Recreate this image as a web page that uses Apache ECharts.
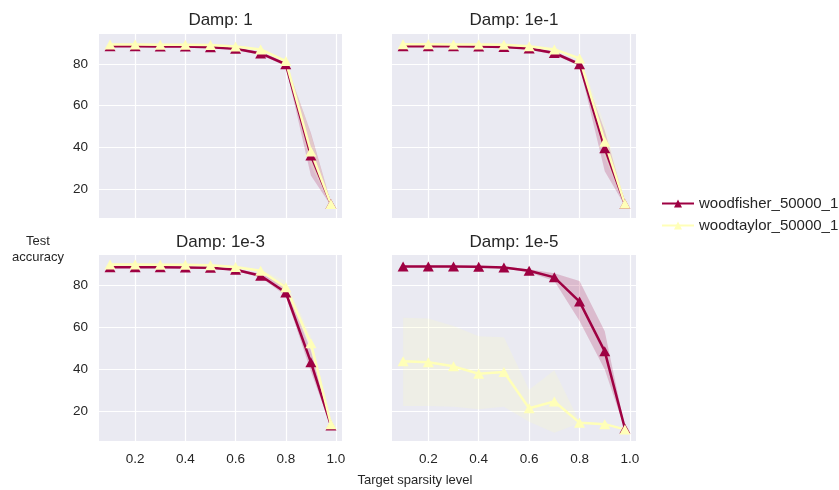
<!DOCTYPE html>
<html>
<head>
<meta charset="utf-8">
<title>Test accuracy vs target sparsity</title>
<script src="https://cdn.jsdelivr.net/npm/echarts@6/dist/echarts.min.js"></script>
<style>
  html, body { margin: 0; padding: 0; background: #ffffff; }
  #chart { width: 839px; height: 490px; }
</style>
</head>
<body>
<div id="chart"></div>
<script>
// Target sparsity levels shared by every panel
const sparsity = [0.1, 0.2, 0.3, 0.4, 0.5, 0.6, 0.7, 0.8, 0.9, 0.98];

const panelTitles = ['Damp: 1', 'Damp: 1e-1', 'Damp: 1e-3', 'Damp: 1e-5'];
const seriesNames = ['woodfisher_50000_1', 'woodtaylor_50000_1'];

// Damp: 1
const fisherDamp1   = [88.4, 88.4, 88.3, 88.3, 88.0, 87.2, 85.0, 79.8, 36.0, 12.8];
const fisherDamp1Lo = [88.1, 88.1, 88.0, 88.0, 87.6, 86.6, 84.2, 79.0, 26.5, 12.0];
const fisherDamp1Hi = [88.8, 88.8, 88.6, 88.6, 88.4, 87.8, 85.8, 80.8, 47.0, 13.5];
const taylorDamp1   = [89.3, 89.3, 89.2, 89.2, 89.0, 88.3, 86.9, 81.3, 38.0, 12.8];
const taylorDamp1Lo = [89.0, 89.0, 88.9, 88.9, 88.7, 87.9, 86.3, 80.6, 31.0, 12.3];
const taylorDamp1Hi = [89.6, 89.6, 89.5, 89.5, 89.3, 88.7, 87.5, 82.0, 46.0, 13.3];

// Damp: 1e-1
const fisherDamp1e1   = [88.4, 88.4, 88.4, 88.3, 88.1, 87.3, 85.2, 79.8, 39.5, 12.8];
const fisherDamp1e1Lo = [88.1, 88.1, 88.1, 88.0, 87.7, 86.7, 84.4, 79.0, 28.5, 12.0];
const fisherDamp1e1Hi = [88.7, 88.7, 88.7, 88.6, 88.5, 87.9, 86.0, 80.8, 48.0, 13.5];
const taylorDamp1e1   = [89.4, 89.4, 89.3, 89.3, 89.1, 88.4, 86.9, 82.6, 42.7, 12.9];
const taylorDamp1e1Lo = [89.1, 89.1, 89.0, 89.0, 88.8, 88.0, 86.3, 81.8, 35.0, 12.3];
const taylorDamp1e1Hi = [89.7, 89.7, 89.6, 89.6, 89.4, 88.8, 87.5, 83.4, 51.0, 13.4];

// Damp: 1e-3
const fisherDamp1e3   = [88.5, 88.5, 88.5, 88.4, 88.2, 87.3, 84.5, 76.5, 43.5, 13.5];
const fisherDamp1e3Lo = [88.2, 88.2, 88.2, 88.1, 87.8, 86.7, 83.6, 75.0, 39.0, 12.8];
const fisherDamp1e3Hi = [88.8, 88.8, 88.8, 88.7, 88.6, 87.9, 85.4, 80.0, 49.0, 14.2];
const taylorDamp1e3   = [89.8, 89.8, 89.7, 89.7, 89.4, 88.6, 86.8, 79.0, 52.5, 14.0];
const taylorDamp1e3Lo = [89.5, 89.5, 89.4, 89.4, 89.1, 88.2, 86.2, 77.5, 49.0, 13.3];
const taylorDamp1e3Hi = [90.1, 90.1, 90.0, 90.0, 89.7, 89.0, 87.4, 82.0, 56.0, 14.7];

// Damp: 1e-5
const fisherDamp1e5   = [88.9, 88.9, 88.8, 88.7, 88.4, 86.8, 83.7, 72.2, 48.6, 12.0];
const fisherDamp1e5Lo = [88.6, 88.6, 88.5, 88.4, 88.0, 86.0, 82.0, 63.0, 40.0, 11.5];
const fisherDamp1e5Hi = [89.2, 89.2, 89.1, 89.0, 88.8, 87.6, 85.7, 82.0, 58.2, 12.5];
const taylorDamp1e5   = [43.9, 43.4, 41.5, 38.0, 38.8, 21.6, 24.8, 14.8, 14.1, 11.6];
const taylorDamp1e5Lo = [22.7, 22.7, 22.4, 21.1, 22.4, 15.2, 10.0, 14.5, 13.8, 11.2];
const taylorDamp1e5Hi = [64.6, 64.2, 60.6, 55.8, 55.3, 30.4, 39.6, 15.2, 14.5, 12.0];

const panels = [
  { fisher: [fisherDamp1, fisherDamp1Lo, fisherDamp1Hi],     taylor: [taylorDamp1, taylorDamp1Lo, taylorDamp1Hi] },
  { fisher: [fisherDamp1e1, fisherDamp1e1Lo, fisherDamp1e1Hi], taylor: [taylorDamp1e1, taylorDamp1e1Lo, taylorDamp1e1Hi] },
  { fisher: [fisherDamp1e3, fisherDamp1e3Lo, fisherDamp1e3Hi], taylor: [taylorDamp1e3, taylorDamp1e3Lo, taylorDamp1e3Hi] },
  { fisher: [fisherDamp1e5, fisherDamp1e5Lo, fisherDamp1e5Hi], taylor: [taylorDamp1e5, taylorDamp1e5Lo, taylorDamp1e5Hi] }
];

const COLORS = ['#9e0142', '#ffffb8'];
const FONT = '"Liberation Sans", Arial, sans-serif';
const TEXT = '#262626';
const BG = '#eaeaf2';

// Facet layout: 2 x 2 panels
const grids = [
  { left: 99,  top: 34,  width: 243, height: 184 },
  { left: 392, top: 34,  width: 244, height: 184 },
  { left: 99,  top: 255, width: 243, height: 186 },
  { left: 392, top: 255, width: 244, height: 186 }
];

const X_MIN = 0.056, X_MAX = 1.024;
const Y_MIN = 6.1, Y_MAX = 94.3;

const xAxes = grids.map((g, i) => ({
  type: 'value', gridIndex: i, min: X_MIN, max: X_MAX,
  axisLine: { show: false }, axisTick: { show: false },
  axisLabel: {
    show: i >= 2, color: TEXT, fontFamily: FONT, fontSize: 13.5, margin: 11,
    showMinLabel: false, showMaxLabel: false,
    formatter: v => v.toFixed(1)
  },
  splitLine: { show: true, showMinLine: false, showMaxLine: false, lineStyle: { color: '#ffffff', width: 1.2 } }
}));

const yAxes = grids.map((g, i) => ({
  type: 'value', gridIndex: i, min: Y_MIN, max: Y_MAX,
  axisLine: { show: false }, axisTick: { show: false },
  axisLabel: {
    show: i % 2 === 0, color: TEXT, fontFamily: FONT, fontSize: 13.5, margin: 11,
    showMinLabel: false, showMaxLabel: false
  },
  splitLine: { show: true, showMinLine: false, showMaxLine: false, lineStyle: { color: '#ffffff', width: 1.2 } }
}));

// Shaded interval drawn as one polygon through the axis scales
function bandSeries(panelIdx, lo, hi, color) {
  return {
    type: 'custom', name: 'band', coordinateSystem: 'cartesian2d',
    xAxisIndex: panelIdx, yAxisIndex: panelIdx, silent: true,
    data: [[sparsity[0], lo[0]]],
    renderItem: (params, api) => {
      const pts = [];
      for (let k = 0; k < sparsity.length; k++) pts.push(api.coord([sparsity[k], hi[k]]));
      for (let k = sparsity.length - 1; k >= 0; k--) pts.push(api.coord([sparsity[k], lo[k]]));
      return { type: 'polygon', shape: { points: pts }, style: { fill: color, opacity: 0.2 } };
    }
  };
}

function lineSeries(panelIdx, name, values, color) {
  return {
    type: 'line', name: name, xAxisIndex: panelIdx, yAxisIndex: panelIdx,
    data: sparsity.map((x, k) => [x, values[k]]),
    symbol: 'triangle', symbolSize: [11, 10], showAllSymbol: true,
    lineStyle: { color: color, width: 2.5 },
    itemStyle: { color: color },
    emphasis: { disabled: true }, animation: false
  };
}

const series = [];
panels.forEach((p, i) => {
  series.push(bandSeries(i, p.fisher[1], p.fisher[2], COLORS[0]));
  series.push(lineSeries(i, seriesNames[0], p.fisher[0], COLORS[0]));
  series.push(bandSeries(i, p.taylor[1], p.taylor[2], COLORS[1]));
  series.push(lineSeries(i, seriesNames[1], p.taylor[0], COLORS[1]));
});

const graphics = panelTitles.map((t, i) => ({
  type: 'text',
  x: grids[i].left + grids[i].width / 2,
  y: i < 2 ? 20 : 242,
  style: { text: t, fill: TEXT, font: '17px ' + FONT, textAlign: 'center', textVerticalAlign: 'middle' }
}));
graphics.push({
  type: 'text', x: 38, y: 249,
  style: { text: 'Test\naccuracy', fill: TEXT, font: '13px ' + FONT, textAlign: 'center', textVerticalAlign: 'middle', lineHeight: 16 }
});
graphics.push({
  type: 'text', x: 415, y: 480,
  style: { text: 'Target sparsity level', fill: TEXT, font: '13px ' + FONT, textAlign: 'center', textVerticalAlign: 'middle' }
});

const chart = echarts.init(document.getElementById('chart'), null, { renderer: 'canvas' });
chart.setOption({
  animation: false,
  backgroundColor: '#ffffff',
  grid: grids.map(g => Object.assign({ show: true, backgroundColor: BG, borderWidth: 0, containLabel: false }, g)),
  xAxis: xAxes,
  yAxis: yAxes,
  legend: {
    data: seriesNames, orient: 'vertical', left: 656, top: 191,
    itemWidth: 32, itemHeight: 10, itemGap: 7,
    textStyle: { color: TEXT, fontFamily: FONT, fontSize: 15 },
    selectedMode: false
  },
  graphic: graphics,
  series: series
});
</script>
</body>
</html>
